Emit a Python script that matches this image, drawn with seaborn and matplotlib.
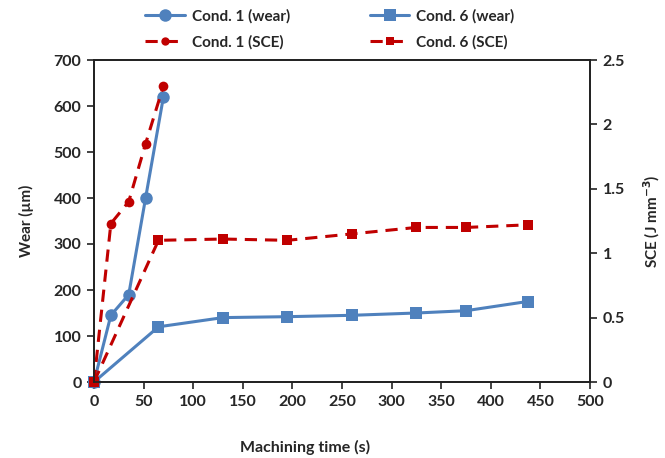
import matplotlib
matplotlib.use("Agg")
import matplotlib.pyplot as plt
import seaborn as sns
from matplotlib.lines import Line2D

# Tool wear and specific cutting energy versus machining time
time_c1 = [0, 17, 35, 52, 70]
wear_c1 = [0, 145, 190, 400, 620]
sce_c1 = [0, 1.23, 1.40, 1.85, 2.30]

time_c6 = [0, 65, 130, 195, 260, 325, 375, 437]
wear_c6 = [0, 120, 140, 142, 145, 150, 155, 175]
sce_c6 = [0, 1.10, 1.11, 1.10, 1.15, 1.20, 1.20, 1.22]

x_ticks = [0, 50, 100, 150, 200, 250, 300, 350, 400, 450, 500]
wear_ticks = [0, 100, 200, 300, 400, 500, 600, 700]
sce_ticks = [0, 0.5, 1, 1.5, 2, 2.5]
sce_tick_labels = ["0", "0.5", "1", "1.5", "2", "2.5"]

BLUE = "#4F81BD"
RED = "#C00000"

sns.set_style("ticks")
plt.rcParams["font.family"] = ["Lato", "DejaVu Sans"]
plt.rcParams["font.weight"] = "bold"
plt.rcParams["axes.labelweight"] = "bold"
FS = 11.5

fig = plt.figure(figsize=(6.65, 4.58), dpi=100)
ax = fig.add_axes([94 / 665, 1 - 382 / 458, (590 - 94) / 665, (382 - 60) / 458])
ax2 = ax.twinx()

dash = (4, 2.6)
sns.lineplot(x=time_c1, y=sce_c1, ax=ax2, color=RED, lw=2.2, marker="o",
             markersize=7, markeredgewidth=0, dashes=False, linestyle=(0, dash), clip_on=False)
sns.lineplot(x=time_c6, y=sce_c6, ax=ax2, color=RED, lw=2.2, marker="s",
             markersize=7, markeredgewidth=0, dashes=False, linestyle=(0, dash), clip_on=False)
sns.lineplot(x=time_c1, y=wear_c1, ax=ax, color=BLUE, lw=2.2, marker="o",
             markersize=9, markeredgewidth=0, clip_on=False)
sns.lineplot(x=time_c6, y=wear_c6, ax=ax, color=BLUE, lw=2.2, marker="s",
             markersize=9, markeredgewidth=0, clip_on=False)

# SCE curves stay drawn above the wear curves
ax.set_zorder(1)
ax.patch.set_visible(False)
ax2.set_zorder(2)

ax.set_xlim(0, 500)
ax.set_ylim(0, 700)
ax2.set_ylim(0, 2.5)
ax.set_xticks(x_ticks)
ax.set_xticklabels([str(v) for v in x_ticks], fontsize=FS, fontweight="bold")
ax.set_yticks(wear_ticks)
ax.set_yticklabels([str(v) for v in wear_ticks], fontsize=FS, fontweight="bold")
ax2.set_yticks(sce_ticks)
ax2.set_yticklabels(sce_tick_labels, fontsize=FS, fontweight="bold")

for a in (ax, ax2):
    for s in a.spines.values():
        s.set_visible(True)
        s.set_color("#222222")
        s.set_linewidth(1.3)
    a.tick_params(direction="out", length=5, width=1.2, color="#222222", pad=4)

ax.set_xlabel("")
ax.set_ylabel("Wear (µm)", fontsize=FS - 0.5, fontweight="bold", labelpad=14)
ax2.set_ylabel("SCE (J mm$^{\\mathbf{-3}}$)", fontsize=FS - 0.5, fontweight="bold", labelpad=12)
fig.text(305 / 665, 1 - 447 / 458, "Machining time (s)", ha="center", va="center",
         fontsize=FS, fontweight="bold")

handles = [
    Line2D([], [], color=BLUE, lw=2.2, marker="o", markersize=9, markeredgewidth=0),
    Line2D([], [], color=RED, lw=2.2, linestyle=(0, dash), marker="o", markersize=6, markeredgewidth=0),
    Line2D([], [], color=BLUE, lw=2.2, marker="s", markersize=9, markeredgewidth=0),
    Line2D([], [], color=RED, lw=2.2, linestyle=(0, dash), marker="s", markersize=6, markeredgewidth=0),
]
labels = ["Cond. 1 (wear)", "Cond. 1 (SCE)", "Cond. 6 (wear)", "Cond. 6 (SCE)"]
fig.legend(handles, labels, ncol=2, loc="center", bbox_to_anchor=(330 / 665, 1 - 29 / 458),
           frameon=False, handlelength=2.6, columnspacing=5.2,
           labelspacing=0.75, handletextpad=0.45, prop={"weight": "bold", "size": FS - 0.5})

fig.savefig("out.png", dpi=100)
